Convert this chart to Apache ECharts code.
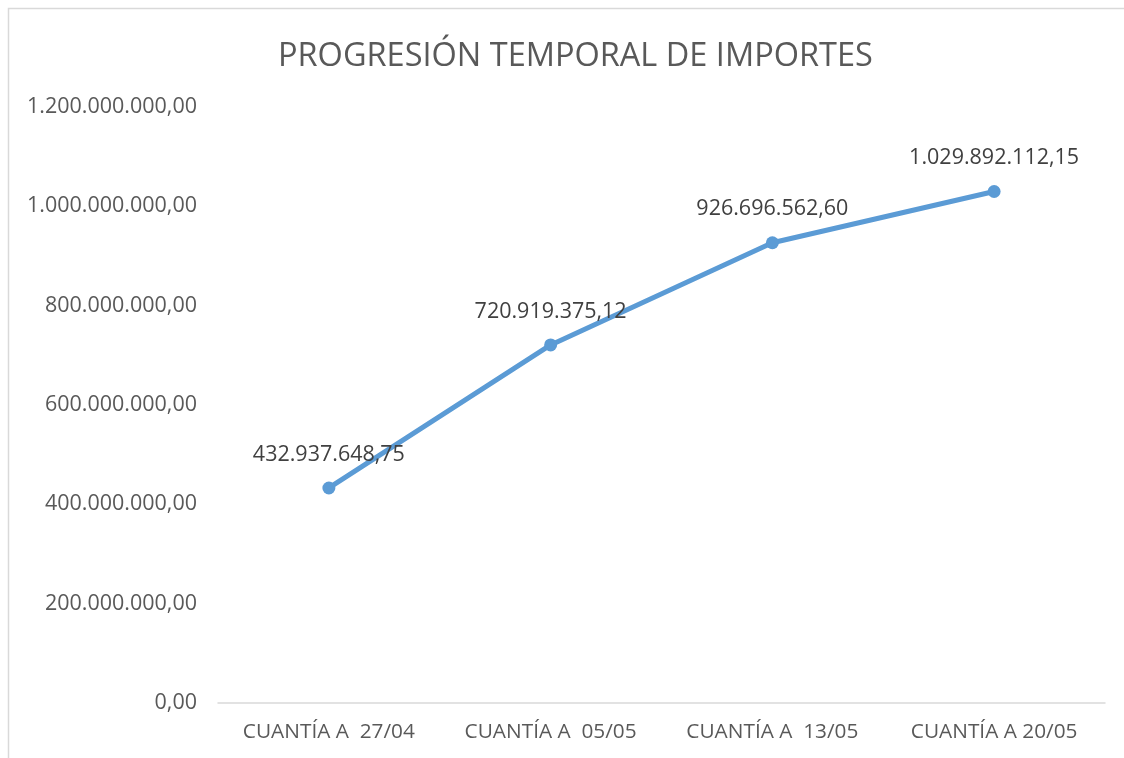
<!DOCTYPE html>
<html>
<head>
<meta charset="utf-8">
<script src="https://cdn.jsdelivr.net/npm/echarts@6/dist/echarts.min.js"></script>
<style>
  html, body { margin: 0; padding: 0; background: #fff; }
  #main { width: 1124px; height: 758px; }
</style>
</head>
<body>
<div id="main"></div>
<script>
// datos
var categorias = ['CUANTÍA A  27/04', 'CUANTÍA A  05/05', 'CUANTÍA A  13/05', 'CUANTÍA A 20/05'];
var importes = [432937648.75, 720919375.12, 926696562.60, 1029892112.15];
var titulo = 'PROGRESIÓN TEMPORAL DE IMPORTES';

// formato español: 1.234.567,89
function formatoES(v) {
    var partes = Number(v).toFixed(2).split('.');
    var entero = partes[0].replace(/\B(?=(\d{3})+(?!\d))/g, '.');
    return entero + ',' + partes[1];
}

var myChart = echarts.init(document.getElementById('main'));

var option = {
    backgroundColor: '#ffffff',
    animation: false,
    textStyle: { fontFamily: 'Open Sans' },
    title: {
        text: titulo,
        left: 273,
        top: 35,
        textStyle: { fontSize: 32.5, fontWeight: 'normal', color: '#595959', fontFamily: 'Open Sans' }
    },
    graphic: [{
        type: 'rect',
        shape: { x: 8.5, y: 8.5, width: 1130, height: 770 },
        style: { fill: 'none', stroke: '#d9d9d9', lineWidth: 1.5 },
        silent: true
    }],
    grid: { left: 218, right: 19, top: 107, bottom: 55 },
    xAxis: {
        type: 'category',
        data: categorias,
        axisLine: { lineStyle: { color: '#d9d9d9', width: 1.5 } },
        axisTick: { show: false },
        axisLabel: { interval: 0, hideOverlap: false, color: '#595959', fontSize: 20.8, margin: 19, fontFamily: 'Open Sans' }
    },
    yAxis: {
        type: 'value',
        min: 0,
        max: 1200000000,
        interval: 200000000,
        axisLine: { show: false },
        axisTick: { show: false },
        splitLine: { show: false },
        axisLabel: {
            color: '#595959', fontSize: 21.5, margin: 21, fontFamily: 'Open Sans',
            formatter: function (v) { return formatoES(v); }
        }
    },
    series: [{
        type: 'line',
        data: importes,
        symbol: 'circle',
        symbolSize: 13,
        lineStyle: { color: '#5b9bd5', width: 5 },
        itemStyle: { color: '#5b9bd5' },
        label: {
            show: true,
            position: 'top',
            distance: 16,
            color: '#404040',
            fontSize: 21.5,
            fontFamily: 'Open Sans',
            formatter: function (p) { return formatoES(p.value); }
        }
    }]
};

myChart.setOption(option);
</script>
</body>
</html>
